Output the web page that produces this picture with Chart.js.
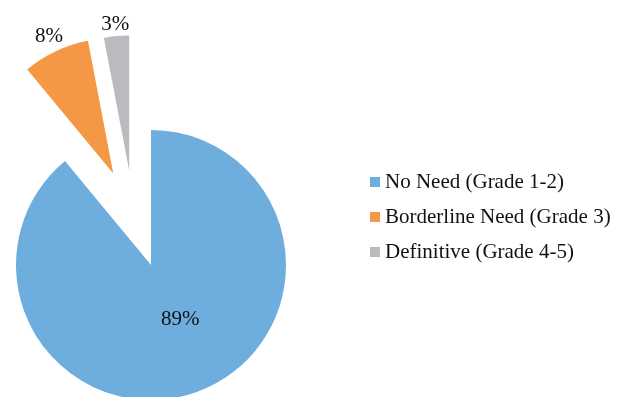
<!DOCTYPE html>
<html>
<head>
<meta charset="utf-8">
<script src="https://cdn.jsdelivr.net/npm/chart.js@4"></script>
<style>
  html, body { margin: 0; padding: 0; background: #fff; overflow: hidden; }
  #wrap { position: relative; width: 621px; height: 397px; overflow: hidden; }
  #c { position: absolute; left: 0; top: 0; }
  #legend { position: absolute; left: 370px; top: 164px; font-family: "Liberation Serif", "Times New Roman", serif; font-size: 21px; color: #111; }
  .item { height: 35px; display: flex; align-items: center; white-space: nowrap; }
  .sw { width: 10px; height: 10px; margin-right: 5px; flex: none; }
</style>
</head>
<body>
<div id="wrap">
  <canvas id="c" width="621" height="397"></canvas>
  <div id="legend"></div>
</div>
<script>
// Data
const categories = ["No Need (Grade 1-2)", "Borderline Need (Grade 3)", "Definitive (Grade 4-5)"];
const shares = [89, 8, 3];
const valueLabels = ["89%", "8%", "3%"];

// Styles
const colors = ["#6DAEDF", "#F59845", "#B9BBBE"];
const explodeDist = [0, 99, 97];        // px pushed out from the centre
const explodeTurn = [0, 2.8, -7.6];     // degrees the push direction turns away from the slice middle
const labelRadius = [0.46, 1.12, 1.09]; // label distance as fraction of radius
const labelTurn = [-8.4, 0, 0];         // degrees the label direction turns away from the slice middle

const legend = document.getElementById('legend');
categories.forEach((c, i) => {
  const d = document.createElement('div');
  d.className = 'item';
  const s = document.createElement('span');
  s.className = 'sw';
  s.style.background = colors[i];
  const t = document.createElement('span');
  t.textContent = c;
  d.appendChild(s); d.appendChild(t);
  legend.appendChild(d);
});

const deg = Math.PI / 180;
const explodePlugin = {
  id: 'explodeLabels',
  beforeDatasetsDraw(chart) {
    const meta = chart.getDatasetMeta(0);
    meta.data.forEach((arc, i) => {
      const d = explodeDist[i] || 0;
      const dir = (arc.startAngle + arc.endAngle) / 2 + (explodeTurn[i] || 0) * deg;
      arc._dx = Math.cos(dir) * d;
      arc._dy = Math.sin(dir) * d;
      arc.x += arc._dx;
      arc.y += arc._dy;
    });
  },
  afterDatasetsDraw(chart) {
    const ctx = chart.ctx;
    const meta = chart.getDatasetMeta(0);
    ctx.save();
    ctx.font = '21px "Liberation Serif", "Times New Roman", serif';
    ctx.fillStyle = '#111';
    ctx.textAlign = 'center';
    ctx.textBaseline = 'middle';
    meta.data.forEach((arc, i) => {
      const dir = (arc.startAngle + arc.endAngle) / 2 + (labelTurn[i] || 0) * deg;
      const r = arc.outerRadius * labelRadius[i];
      ctx.fillText(valueLabels[i], arc.x + Math.cos(dir) * r, arc.y + Math.sin(dir) * r);
    });
    ctx.restore();
    meta.data.forEach((arc) => {
      arc.x -= arc._dx || 0;
      arc.y -= arc._dy || 0;
    });
  }
};

new Chart(document.getElementById('c'), {
  type: 'pie',
  data: {
    labels: categories,
    datasets: [{
      data: shares,
      backgroundColor: colors,
      borderWidth: 0,
      clip: false
    }]
  },
  options: {
    responsive: false,
    animation: false,
    radius: 135,
    layout: { padding: { top: 133, right: 319, bottom: 0, left: 0 } },
    plugins: { legend: { display: false }, tooltip: { enabled: false } }
  },
  plugins: [explodePlugin]
});
</script>
</body>
</html>
